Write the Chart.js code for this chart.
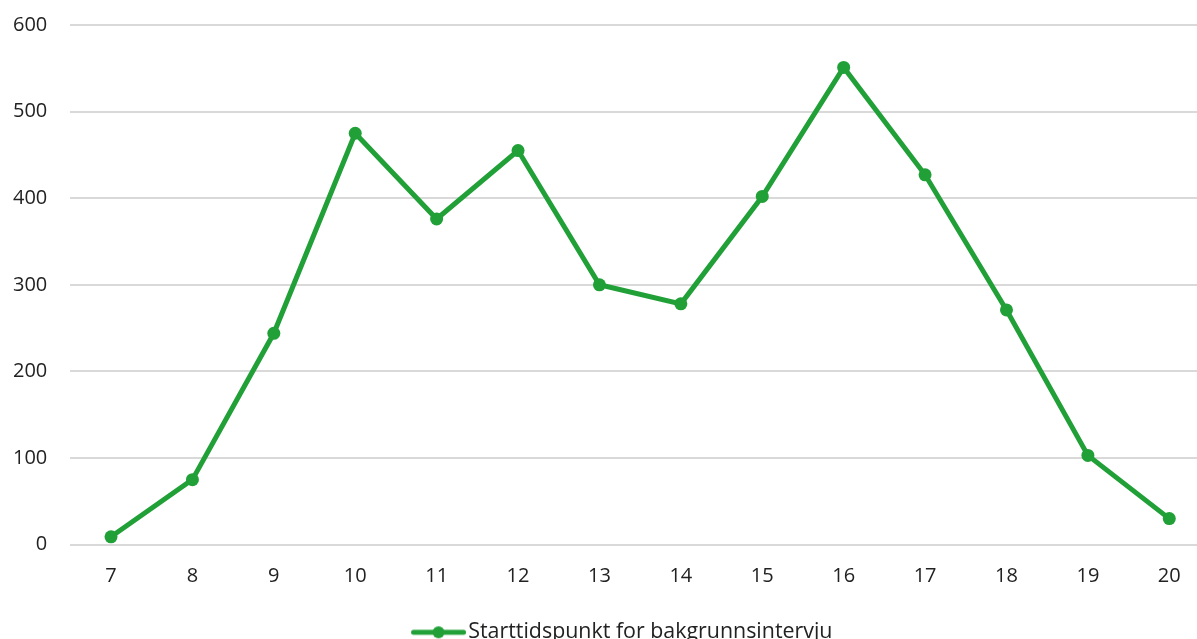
<!DOCTYPE html>
<html>
<head>
<meta charset="utf-8">
<script src="https://cdn.jsdelivr.net/npm/chart.js@4"></script>
<style>
  html, body { margin: 0; padding: 0; background: #fff; overflow: hidden; }
  #wrap { width: 1249px; height: 663px; margin-left: -22px; margin-top: -10px; }
</style>
</head>
<body>
<div id="wrap"><canvas id="chart"></canvas></div>
<script>
// データ
const hours = ['7', '8', '9', '10', '11', '12', '13', '14', '15', '16', '17', '18', '19', '20'];
const starts = [9, 75, 244, 475, 376, 455, 300, 278, 402, 551, 427, 271, 103, 30];
const seriesName = 'Starttidspunkt for bakgrunnsintervju';
const green = '#21a038';

// 凡例マーカー（線＋点）: 左側は透明にして項目を右へずらす
const boxW = 90;
const marker = document.createElement('canvas');
marker.width = 107;
marker.height = 14;
let mctx = marker.getContext('2d');
mctx.strokeStyle = green;
mctx.lineWidth = 5;
mctx.lineCap = 'round';
mctx.beginPath();
mctx.moveTo(54.5, 7);
mctx.lineTo(104.5, 7);
mctx.stroke();
mctx.fillStyle = green;
mctx.beginPath();
mctx.arc(79.5, 7, 6, 0, Math.PI * 2);
mctx.fill();

Chart.defaults.font.family = '"Open Sans", sans-serif';
Chart.defaults.color = '#222';

let ctx = document.getElementById('chart').getContext('2d');
new Chart(ctx, {
  type: 'line',
  data: {
    labels: hours,
    datasets: [{
      label: seriesName,
      data: starts,
      borderColor: green,
      backgroundColor: green,
      borderWidth: 5,
      pointRadius: 6.5,
      pointHoverRadius: 6.5,
      pointBackgroundColor: green,
      pointBorderWidth: 0,
      tension: 0,
      pointStyle: 'circle'
    }]
  },
  options: {
    responsive: true,
    maintainAspectRatio: false,
    animation: false,
    layout: { padding: { top: 8, right: 17, left: 12, bottom: 0 } },
    plugins: {
      legend: {
        position: 'bottom',
        labels: {
          usePointStyle: true,
          pointStyle: marker,
          pointStyleWidth: boxW,
          font: { size: 21.4 },
          color: '#222',
          padding: 13
        }
      },
      tooltip: { enabled: false }
    },
    scales: {
      x: {
        offset: true,
        grid: { display: false, drawTicks: false },
        border: { display: false },
        ticks: { font: { size: 20 }, padding: 20 }
      },
      y: {
        min: 0,
        max: 600,
        ticks: { stepSize: 100, font: { size: 20 }, padding: 23 },
        grid: { color: '#d9d9d9', lineWidth: 2, drawTicks: false },
        border: { display: false }
      }
    }
  }
});
</script>
</body>
</html>
